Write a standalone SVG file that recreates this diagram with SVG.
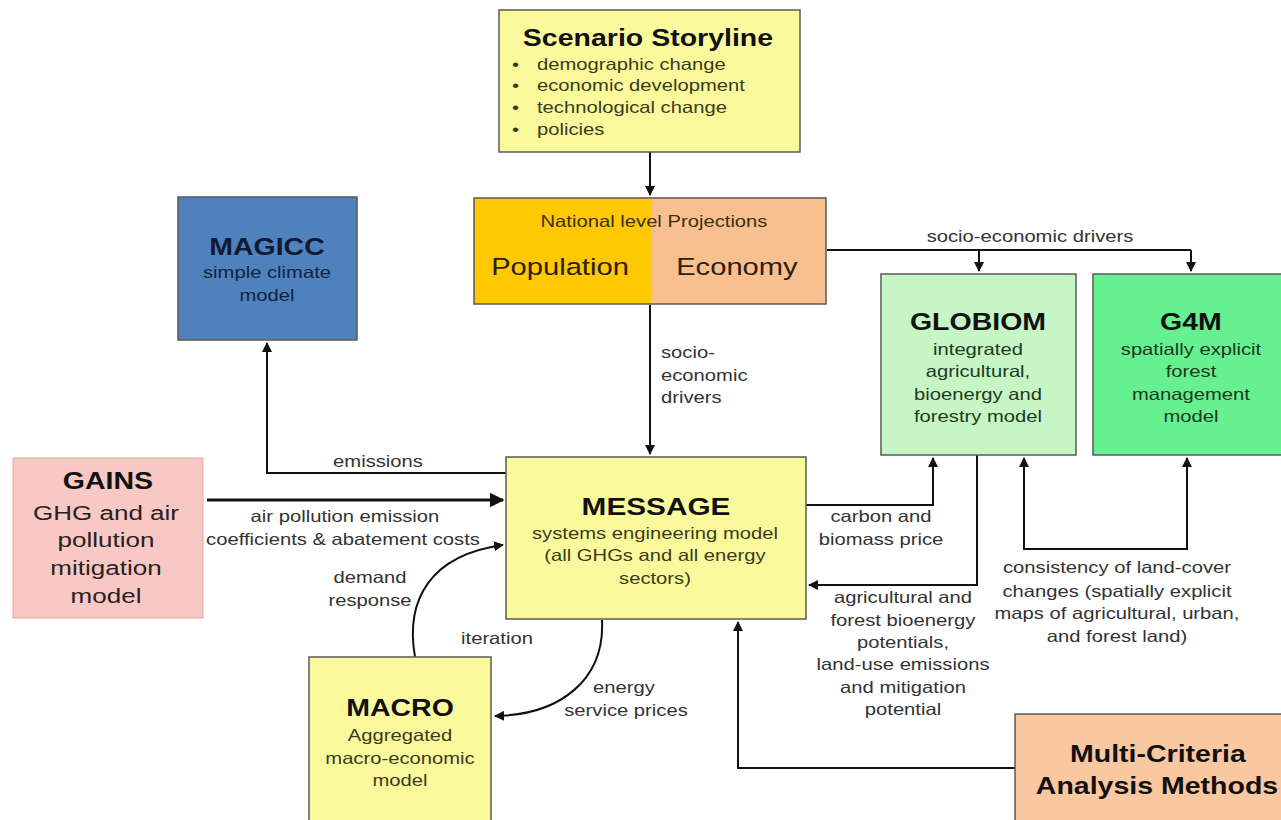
<svg xmlns="http://www.w3.org/2000/svg" width="1281" height="820" viewBox="0 0 1281 820">
<style>
text{font-family:"Liberation Sans",Arial,sans-serif;transform-box:fill-box;transform-origin:center;transform:scaleX(1.24);}
text.st{transform-origin:left center;}
.box{stroke:#5a5a5a;stroke-width:1.5;}
.t{font-weight:bold;font-size:23px;fill:#111;text-anchor:middle;}
.s{font-size:16.3px;fill:#3a3a20;text-anchor:middle;}
.lb{font-size:16.3px;fill:#333;text-anchor:middle;}
.ln{fill:none;stroke:#111;stroke-width:2;}
</style>
<defs>
<marker id="ah" viewBox="0 0 10 10" refX="9" refY="5" markerWidth="5" markerHeight="5" orient="auto-start-reverse" markerUnits="strokeWidth">
<path d="M0,0L10,5L0,10z" fill="#111"/>
</marker>
</defs>
<rect width="1281" height="820" fill="#fff"/>

<g id="connectors">
<path class="ln" d="M650,152V195" marker-end="url(#ah)"/>
<path class="ln" d="M650,305V454" marker-end="url(#ah)"/>
<path class="ln" d="M827,250H1191M979,250V271" marker-end="url(#ah)"/>
<path class="ln" d="M1191,250V271" marker-end="url(#ah)"/>
<path class="ln" d="M506,473H267V343" marker-end="url(#ah)"/>
<path class="ln" d="M207,500H503" style="stroke-width:3" marker-end="url(#ah)"/>
<path class="ln" d="M415,657C405,600 430,555 503,545" marker-end="url(#ah)"/>
<path class="ln" d="M602,620C605,680 560,715 495,716" marker-end="url(#ah)"/>
<path class="ln" d="M806,505H933V458" marker-end="url(#ah)"/>
<path class="ln" d="M977,455V585H809" marker-end="url(#ah)"/>
<path class="ln" d="M1024,458V549H1187V458" marker-start="url(#ah)" marker-end="url(#ah)"/>
<path class="ln" d="M1015,768H738V622" marker-end="url(#ah)"/>
<text class="lb" x="1030" y="242">socio-economic drivers</text>
<text class="lb st" x="661" y="358" style="text-anchor:start">socio-</text>
<text class="lb st" x="661" y="381" style="text-anchor:start">economic</text>
<text class="lb st" x="661" y="403" style="text-anchor:start">drivers</text>
<text class="lb" x="378" y="467">emissions</text>
<text class="lb" x="345" y="522">air pollution emission</text>
<text class="lb" x="343" y="545">coefficients &amp; abatement costs</text>
<text class="lb" x="370" y="583">demand</text>
<text class="lb" x="370" y="606">response</text>
<text class="lb" x="497" y="644">iteration</text>
<text class="lb" x="624" y="693">energy</text>
<text class="lb" x="626" y="716">service prices</text>
<text class="lb" x="881" y="522">carbon and</text>
<text class="lb" x="881" y="545">biomass price</text>
<text class="lb" x="903" y="603">agricultural and</text>
<text class="lb" x="903" y="626">forest bioenergy</text>
<text class="lb" x="903" y="648">potentials,</text>
<text class="lb" x="903" y="670">land-use emissions</text>
<text class="lb" x="903" y="693">and mitigation</text>
<text class="lb" x="903" y="715">potential</text>
<text class="lb" x="1117" y="573">consistency of land-cover</text>
<text class="lb" x="1117" y="597">changes (spatially explicit</text>
<text class="lb" x="1117" y="619">maps of agricultural, urban,</text>
<text class="lb" x="1117" y="642">and forest land)</text>
</g>

<g id="storyline">
<rect class="box" x="499" y="10" width="301" height="142" fill="#fafa9c"/>
<text class="t" x="648" y="46">Scenario Storyline</text>
<g style="font-size:16.3px;fill:#3a3a20">
<text class="st" x="512" y="70">•</text><text class="st" x="537" y="70">demographic change</text>
<text class="st" x="512" y="91">•</text><text class="st" x="537" y="91">economic development</text>
<text class="st" x="512" y="113">•</text><text class="st" x="537" y="113">technological change</text>
<text class="st" x="512" y="135">•</text><text class="st" x="537" y="135">policies</text>
</g>
</g>

<g id="projections">
<rect x="474" y="198" width="177" height="106" fill="#ffc800"/>
<rect x="651" y="198" width="175" height="106" fill="#f9c08f"/>
<rect class="box" x="474" y="198" width="352" height="106" fill="none"/>
<text x="654" y="227" style="font-size:16.3px;fill:#3a3010;text-anchor:middle">National level Projections</text>
<text x="560" y="275" style="font-size:23.5px;fill:#2a2010;text-anchor:middle">Population</text>
<text x="737" y="275" style="font-size:23.5px;fill:#2a2010;text-anchor:middle">Economy</text>
</g>

<g id="magicc">
<rect class="box" x="178" y="197" width="179" height="143" fill="#4f81bd"/>
<text class="t" x="267" y="255" style="fill:#0f1a33">MAGICC</text>
<text class="s" x="267" y="278" style="fill:#14233f">simple climate</text>
<text class="s" x="267" y="301" style="fill:#14233f">model</text>
</g>

<g id="gains">
<rect x="13" y="458" width="190" height="160" fill="#f8c8c4" stroke="#e0a8a4" stroke-width="1"/>
<text class="t" x="108" y="489">GAINS</text>
<text x="106" y="520" style="font-size:21px;fill:#2a2020;text-anchor:middle">GHG and air</text>
<text x="106" y="547" style="font-size:21px;fill:#2a2020;text-anchor:middle">pollution</text>
<text x="106" y="575" style="font-size:21px;fill:#2a2020;text-anchor:middle">mitigation</text>
<text x="106" y="603" style="font-size:21px;fill:#2a2020;text-anchor:middle">model</text>
</g>

<g id="message">
<rect class="box" x="506" y="457" width="300" height="162" fill="#fafa9c"/>
<text class="t" x="656" y="515" style="font-size:24px">MESSAGE</text>
<text class="s" x="655" y="539">systems engineering model</text>
<text class="s" x="655" y="561">(all GHGs and all energy</text>
<text class="s" x="655" y="584">sectors)</text>
</g>

<g id="globiom">
<rect class="box" x="881" y="274" width="195" height="181" fill="#c6f5c6"/>
<text class="t" x="978" y="330">GLOBIOM</text>
<text class="s" x="978" y="355" style="fill:#1f3a1f">integrated</text>
<text class="s" x="978" y="377" style="fill:#1f3a1f">agricultural,</text>
<text class="s" x="978" y="400" style="fill:#1f3a1f">bioenergy and</text>
<text class="s" x="978" y="422" style="fill:#1f3a1f">forestry model</text>
</g>

<g id="g4m">
<rect class="box" x="1093" y="274" width="192" height="181" fill="#66f090"/>
<text class="t" x="1191" y="330">G4M</text>
<text class="s" x="1191" y="355" style="fill:#1a3a1f">spatially explicit</text>
<text class="s" x="1191" y="377" style="fill:#1a3a1f">forest</text>
<text class="s" x="1191" y="400" style="fill:#1a3a1f">management</text>
<text class="s" x="1191" y="422" style="fill:#1a3a1f">model</text>
</g>

<g id="macro">
<rect class="box" x="309" y="657" width="182" height="170" fill="#fafa9c"/>
<text class="t" x="400" y="716">MACRO</text>
<text class="s" x="400" y="741">Aggregated</text>
<text class="s" x="400" y="764">macro-economic</text>
<text class="s" x="400" y="786">model</text>
</g>

<g id="mca">
<rect class="box" x="1015" y="714" width="275" height="115" fill="#f9c8a0"/>
<text class="t" x="1158" y="762">Multi-Criteria</text>
<text class="t" x="1157" y="794">Analysis Methods</text>
</g>
</svg>
